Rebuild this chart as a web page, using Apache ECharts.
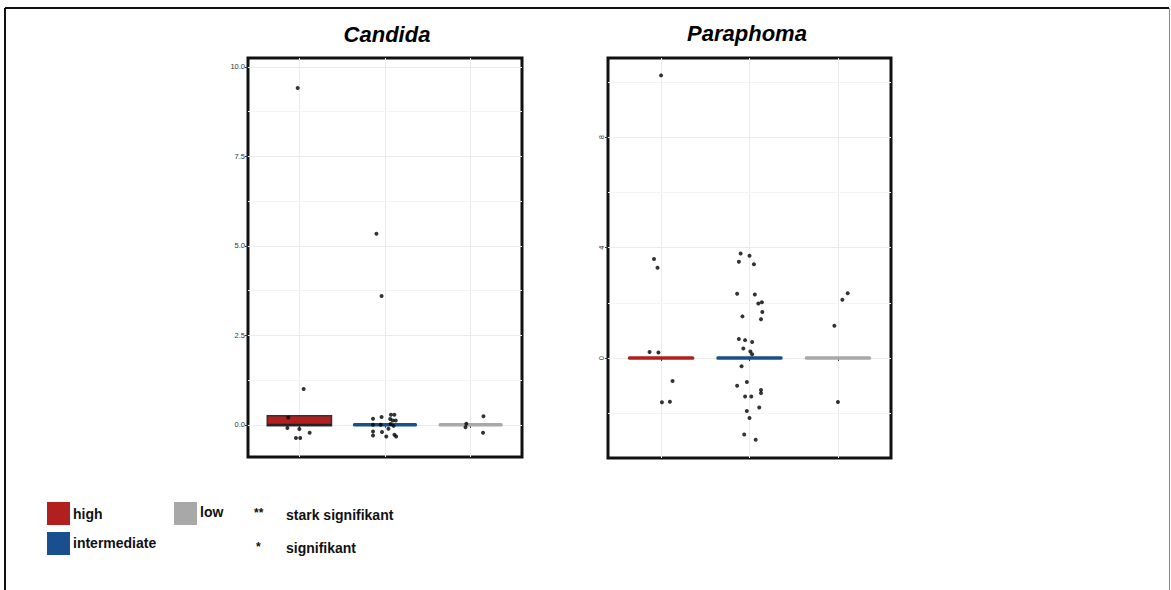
<!DOCTYPE html>
<html>
<head>
<meta charset="utf-8">
<script src="https://cdn.jsdelivr.net/npm/echarts@6/dist/echarts.min.js"></script>
<style>
html,body{margin:0;padding:0;background:#fff;}
#chart{width:1171px;height:590px;}
</style>
</head>
<body>
<div id="chart"></div>
<script>
// ---- data ----
const categories = ['high', 'intermediate', 'low'];
const groupColors = ['#B21F1F', '#1A4F8F', '#A8A8A8'];
const panelTitles = ['Candida', 'Paraphoma'];

// box summaries per category: [q1, q3, median]
const candidaBoxes = [[-0.03, 0.25, 0.0], [0, 0, 0], [0, 0, 0]];
const paraphomaBoxes = [[0, 0, 0], [0, 0, 0], [0, 0, 0]];

// points: [category index (1-based) + jitter offset, value]
const candidaHigh = [[0.98, 9.41], [1.05, 1.0], [0.87, 0.2], [0.86, -0.09], [1.0, -0.12], [1.12, -0.22], [0.96, -0.37], [1.01, -0.37]];
const candidaIntermediate = [[1.90, 5.34], [1.96, 3.6], [1.86, 0.17], [1.96, 0.22], [1.86, 0.0], [1.95, 0.0], [1.86, -0.19], [1.86, -0.3], [1.965, -0.2], [2.015, -0.33], [2.04, -0.11], [2.06, 0.16], [2.07, 0.28], [2.11, 0.28], [2.09, 0.12], [2.125, 0.12], [2.10, -0.03], [2.065, 0.02], [2.11, -0.28], [2.13, -0.33]];
const candidaLow = [[2.95, 0.03], [2.94, -0.07], [3.15, 0.24], [3.145, -0.22]];

const paraphomaHigh = [[1.0, 10.24], [0.92, 3.59], [0.96, 3.27], [0.87, 0.22], [0.97, 0.2], [1.13, -0.83], [1.01, -1.6], [1.10, -1.58]];
const paraphomaIntermediate = [[1.90, 3.79], [2.0, 3.71], [1.88, 3.49], [2.05, 3.4], [1.86, 2.33], [2.06, 2.3], [2.10, 1.98], [2.14, 2.02], [2.145, 1.67], [1.92, 1.51], [2.13, 1.41], [1.88, 0.69], [1.95, 0.65], [2.03, 0.58], [1.93, 0.35], [2.01, 0.24], [2.03, 0.14], [1.91, -0.3], [1.97, -0.87], [1.86, -1.0], [2.13, -1.16], [2.13, -1.27], [1.95, -1.39], [2.02, -1.39], [2.11, -1.79], [1.97, -1.92], [2.0, -2.17], [1.94, -2.77], [2.07, -2.96]];
const paraphomaLow = [[3.11, 2.35], [3.05, 2.11], [2.96, 1.17], [3.0, -1.59]];

// axes
const candidaYRange = [-0.9, 10.25];
const paraphomaYRange = [-3.62, 10.87];
const candidaYTicks = [0, 2.5, 5, 7.5, 10];
const candidaYMinor = [1.25, 3.75, 6.25, 8.75];
const paraphomaYTicks = [0, 4, 8];
const paraphomaYMinor = [-2, 2, 6, 10];
const xRange = [0.4, 3.6];
const xTicks = [1, 2, 3];

// legend
const legendItems = ['high', 'intermediate', 'low'];
const sigSymbols = ['**', '*'];
const sigLabels = ['stark signifikant', 'signifikant'];

// ---- chart ----
const FONT = '"Liberation Sans", Arial, sans-serif';
const chart = echarts.init(document.getElementById('chart'), null, {renderer: 'svg'});
const halfW = 0.375;

function boxRender(params, api) {
  const x = api.value(0), lo = api.value(1), hi = api.value(2), med = api.value(3);
  const color = groupColors[params.dataIndex];
  const p1 = api.coord([x - halfW, hi]);
  const p2 = api.coord([x + halfW, lo]);
  const pm = api.coord([x, med]);
  if (Math.abs(p2[1] - p1[1]) < 3) {
    return {type: 'rect', shape: {x: p1[0], y: pm[1] - 1.7, width: p2[0] - p1[0], height: 3.4, r: 1.5},
      style: {fill: color, stroke: null}};
  }
  return {type: 'group', children: [
    {type: 'rect', shape: {x: p1[0], y: p1[1], width: p2[0] - p1[0], height: p2[1] - p1[1]},
      style: {fill: color, stroke: '#333', lineWidth: 1.5}},
    {type: 'rect', shape: {x: p1[0], y: pm[1] - 1, width: p2[0] - p1[0], height: 2},
      style: {fill: '#222'}}
  ]};
}

function gridLines(yMajor, yMinor) {
  const d = [];
  xTicks.forEach(v => d.push({xAxis: v, lineStyle: {color: '#ebebeb', width: 1}}));
  yMinor.forEach(v => d.push({yAxis: v, lineStyle: {color: '#f3f3f3', width: 1}}));
  yMajor.forEach(v => d.push({yAxis: v, lineStyle: {color: '#ebebeb', width: 1}}));
  return {silent: true, z: 0, zlevel: 0, symbol: 'none', label: {show: false}, animation: false, data: d, lineStyle: {type: 'solid'}};
}

function yAxisDef(idx, range, ticks, fmt, rotate) {
  return {
    type: 'value', gridIndex: idx, min: range[0], max: range[1],
    splitLine: {show: false}, axisLine: {show: false},
    axisTick: {show: true, customValues: ticks, length: 3, lineStyle: {color: '#333', width: 1}},
    axisLabel: {customValues: ticks, formatter: fmt, fontSize: 7.5, color: '#333', margin: 3, rotate: rotate, fontFamily: FONT}
  };
}
function xAxisDef(idx) {
  return {
    type: 'value', gridIndex: idx, min: xRange[0], max: xRange[1],
    splitLine: {show: false}, axisLine: {show: false},
    axisTick: {show: true, customValues: xTicks, length: 3, lineStyle: {color: '#333'}},
    axisLabel: {show: false}
  };
}

const candidaScatter = candidaHigh.concat(candidaIntermediate, candidaLow);
const paraphomaScatter = paraphomaHigh.concat(paraphomaIntermediate, paraphomaLow);

const option = {
  animation: false,
  backgroundColor: '#fff',
  title: [
    {text: panelTitles[0], left: 382, top: 18, textAlign: 'center',
      textStyle: {fontSize: 22, fontWeight: 'bold', fontStyle: 'italic', color: '#000', fontFamily: FONT}},
    {text: panelTitles[1], left: 742, top: 17, textAlign: 'center',
      textStyle: {fontSize: 22, fontWeight: 'bold', fontStyle: 'italic', color: '#000', fontFamily: FONT}}
  ],
  grid: [
    {left: 248, top: 58, width: 274, height: 399, show: true, borderColor: '#111', borderWidth: 3, backgroundColor: '#fff'},
    {left: 608, top: 58, width: 283, height: 400, show: true, borderColor: '#111', borderWidth: 3, backgroundColor: '#fff'}
  ],
  xAxis: [xAxisDef(0), xAxisDef(1)],
  yAxis: [
    yAxisDef(0, candidaYRange, candidaYTicks, v => v.toFixed(1), 0),
    yAxisDef(1, paraphomaYRange, paraphomaYTicks, v => String(v), 90)
  ],
  series: [
    // background grid lines (lowest layer)
    {type: 'scatter', xAxisIndex: 0, yAxisIndex: 0, z: 1, data: [], markLine: gridLines(candidaYTicks, candidaYMinor)},
    {type: 'scatter', xAxisIndex: 1, yAxisIndex: 1, z: 1, data: [], markLine: gridLines(paraphomaYTicks, paraphomaYMinor)},
    {type: 'custom', xAxisIndex: 0, yAxisIndex: 0, renderItem: boxRender, z: 6,
      data: candidaBoxes.map((b, i) => [i + 1, b[0], b[1], b[2]])},
    {type: 'scatter', xAxisIndex: 0, yAxisIndex: 0, symbolSize: 4, z: 8,
      itemStyle: {color: '#000'}, data: candidaScatter},
    {type: 'custom', xAxisIndex: 1, yAxisIndex: 1, renderItem: boxRender, z: 6,
      data: paraphomaBoxes.map((b, i) => [i + 1, b[0], b[1], b[2]])},
    {type: 'scatter', xAxisIndex: 1, yAxisIndex: 1, symbolSize: 4, z: 8,
      itemStyle: {color: '#000'}, data: paraphomaScatter}
  ],
  graphic: [
    // outer frame
    {type: 'line', shape: {x1: 5, y1: 8, x2: 1169, y2: 8}, style: {stroke: '#111', lineWidth: 2}},
    {type: 'line', shape: {x1: 5, y1: 8, x2: 5, y2: 590}, style: {stroke: '#111', lineWidth: 2}},
    {type: 'line', shape: {x1: 1169.5, y1: 8, x2: 1169.5, y2: 590}, style: {stroke: '#888', lineWidth: 1}},
    // legend swatches
    {type: 'rect', shape: {x: 47, y: 502, width: 23, height: 23}, style: {fill: groupColors[0]}},
    {type: 'rect', shape: {x: 47, y: 532, width: 23, height: 23}, style: {fill: groupColors[1]}},
    {type: 'rect', shape: {x: 174, y: 502, width: 23, height: 23}, style: {fill: groupColors[2]}},
    {type: 'text', x: 73, y: 514, style: {text: legendItems[0], fill: '#111', font: 'bold 14px ' + FONT, textVerticalAlign: 'middle'}},
    {type: 'text', x: 73, y: 543, style: {text: legendItems[1], fill: '#111', font: 'bold 14px ' + FONT, textVerticalAlign: 'middle'}},
    {type: 'text', x: 200, y: 512, style: {text: legendItems[2], fill: '#111', font: 'bold 14px ' + FONT, textVerticalAlign: 'middle'}},
    {type: 'text', x: 254, y: 513, style: {text: sigSymbols[0], fill: '#111', font: 'bold 12px ' + FONT, textVerticalAlign: 'middle'}},
    {type: 'text', x: 256, y: 547, style: {text: sigSymbols[1], fill: '#111', font: 'bold 12px ' + FONT, textVerticalAlign: 'middle'}},
    {type: 'text', x: 286, y: 515, style: {text: sigLabels[0], fill: '#111', font: 'bold 14px ' + FONT, textVerticalAlign: 'middle'}},
    {type: 'text', x: 286, y: 548, style: {text: sigLabels[1], fill: '#111', font: 'bold 14px ' + FONT, textVerticalAlign: 'middle'}}
  ]
};
chart.setOption(option);
</script>
</body>
</html>
